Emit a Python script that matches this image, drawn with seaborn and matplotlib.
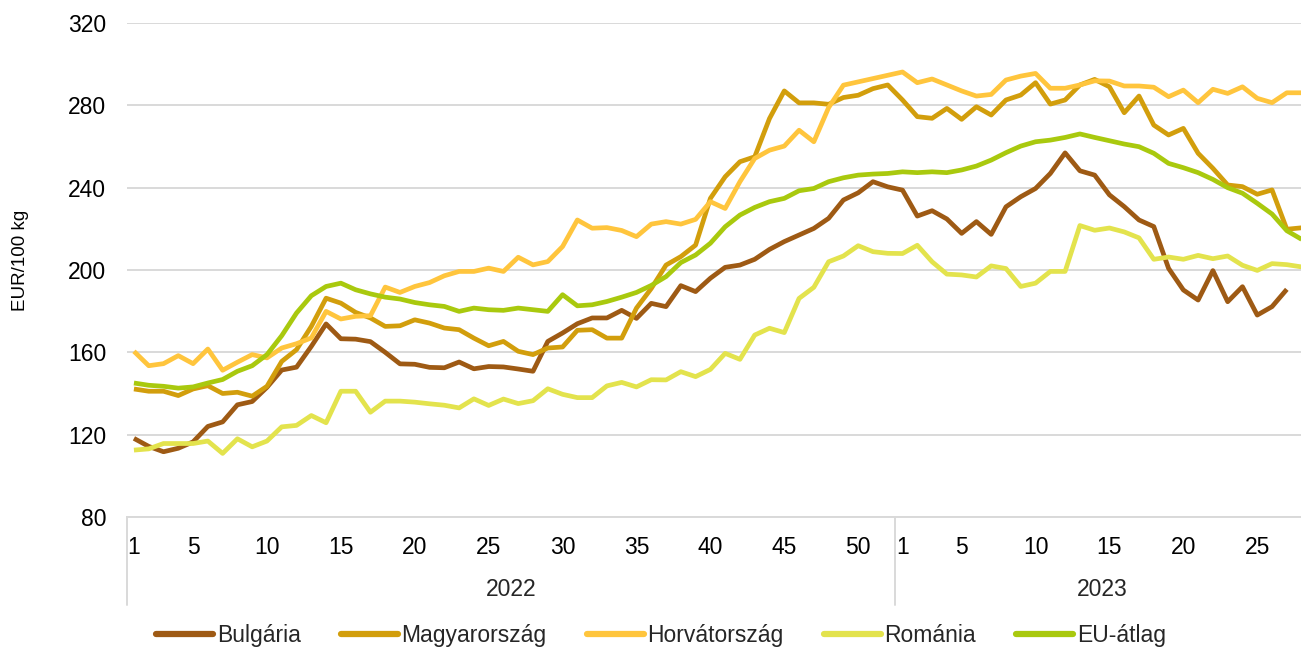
import numpy as np
import pandas as pd
import matplotlib
matplotlib.use("Agg")
import matplotlib.pyplot as plt
import matplotlib.transforms as mtransforms
from matplotlib.lines import Line2D
import seaborn as sns

# ---- data ----
weeks_2022 = list(range(1, 53))
weeks_2023 = list(range(1, 29))
years = ["2022", "2023"]
week_labels = weeks_2022 + weeks_2023
tick_weeks = [1, 5, 10, 15, 20, 25, 30, 35, 40, 45, 50]

bulgaria = [118.2, 114.3, 111.7, 113.4, 116.5, 124.0, 126.2, 134.5, 136.1, 143.0,
            151.4, 152.8, 162.9, 173.8, 166.6, 166.4, 165.2, 160.0, 154.4, 154.2,
            152.7, 152.5, 155.3, 152.0, 153.1, 152.9, 151.9, 150.8, 165.3, 169.4,
            173.9, 176.7, 176.7, 180.4, 176.5, 183.8, 182.2, 192.4, 189.5, 196.0,
            201.3, 202.4, 205.2, 210.0, 213.8, 217.0, 220.2, 225.1, 234.0, 237.5,
            242.9, 240.4, 238.8, 226.2, 228.8, 224.8, 217.8, 223.5, 217.3, 230.7,
            235.6, 239.6, 246.9, 256.9, 248.2, 246.1, 236.5, 230.8, 224.3, 221.1,
            200.8, 190.3, 185.4, 199.7, 184.6, 191.9, 178.1, 182.2, 190.6, np.nan]
magyarorszag = [142.2, 141.1, 141.1, 139.0, 142.2, 143.8, 140.0, 140.6, 138.7, 143.5,
                155.6, 161.3, 172.6, 186.3, 183.9, 179.4, 176.7, 172.6, 172.9, 175.8,
                174.2, 171.8, 171.0, 166.9, 163.2, 165.3, 160.5, 158.9, 162.1, 162.6,
                170.7, 171.0, 166.9, 166.9, 181.5, 191.0, 202.4, 206.5, 212.1, 234.8,
                245.3, 252.6, 255.0, 273.6, 287.0, 281.2, 281.2, 280.5, 283.8, 284.9,
                288.1, 289.9, 282.6, 274.5, 273.7, 278.5, 273.2, 279.3, 275.3, 282.6,
                285.0, 291.0, 280.6, 282.6, 289.9, 292.6, 289.0, 276.4, 284.5, 270.4,
                265.6, 268.8, 256.7, 249.4, 241.3, 240.5, 236.8, 238.9, 219.8, 220.5]
horvatorszag = [160.5, 153.5, 154.5, 158.4, 154.5, 161.6, 151.3, 155.2, 158.9, 157.3,
                162.1, 164.2, 167.0, 179.9, 176.2, 177.5, 177.8, 191.7, 189.1, 192.0,
                193.9, 197.2, 199.3, 199.3, 200.9, 199.3, 206.2, 202.5, 204.1, 211.4,
                224.3, 220.3, 220.6, 219.2, 216.2, 222.3, 223.5, 222.3, 224.6, 233.2,
                229.9, 242.9, 254.2, 258.2, 260.2, 267.9, 262.3, 278.9, 289.8, 291.4,
                293.0, 294.6, 296.2, 291.0, 292.8, 289.9, 287.0, 284.5, 285.3, 292.3,
                294.2, 295.5, 288.3, 288.3, 289.9, 291.9, 291.8, 289.4, 289.4, 288.8,
                284.2, 287.4, 281.3, 287.8, 285.8, 289.0, 283.4, 281.3, 286.1, 286.1]
romania = [112.5, 113.1, 115.7, 115.7, 115.7, 116.9, 110.9, 118.0, 114.1, 116.9,
           123.8, 124.5, 129.3, 125.8, 141.1, 141.1, 130.9, 136.3, 136.3, 135.8,
           135.0, 134.3, 133.0, 137.4, 134.2, 137.3, 135.1, 136.5, 142.3, 139.6,
           138.0, 138.0, 143.7, 145.4, 143.2, 146.7, 146.6, 150.6, 148.2, 151.7,
           159.5, 156.6, 168.4, 171.7, 169.6, 186.2, 191.6, 204.0, 206.8, 211.8,
           208.9, 208.1, 208.0, 212.0, 204.0, 198.0, 197.6, 196.6, 202.0, 200.7,
           192.0, 193.6, 199.3, 199.3, 221.6, 219.3, 220.4, 218.5, 215.6, 205.2,
           206.3, 205.2, 207.1, 205.5, 206.8, 202.3, 199.8, 203.1, 202.6, 201.5]
eu_atlag = [145.1, 144.0, 143.5, 142.6, 143.2, 145.1, 146.8, 150.8, 153.5, 158.9,
            168.1, 179.1, 187.5, 192.0, 193.6, 190.4, 188.4, 186.8, 185.9, 184.2,
            183.1, 182.3, 179.9, 181.5, 180.7, 180.4, 181.5, 180.7, 179.9, 188.0,
            182.6, 183.1, 184.7, 186.8, 189.1, 192.5, 196.8, 203.6, 207.3, 213.0,
            221.0, 226.7, 230.4, 233.2, 234.8, 238.5, 239.6, 242.9, 244.8, 246.1,
            246.6, 246.9, 247.7, 247.3, 247.7, 247.3, 248.6, 250.5, 253.4, 257.0,
            260.2, 262.3, 263.1, 264.4, 266.1, 264.4, 262.8, 261.2, 259.9, 256.7,
            251.8, 249.7, 247.3, 244.0, 240.0, 237.3, 232.4, 227.2, 219.1, 214.9]

series_names = ["Bulgária", "Magyarország", "Horvátország", "Románia", "EU-átlag"]
series_values = [bulgaria, magyarorszag, horvatorszag, romania, eu_atlag]
colors = ["#9E5A14", "#D29E0C", "#FFC53D", "#E3E34D", "#A9C90E"]

# ---- long-form table ----
idx = np.arange(len(week_labels))
frames = []
for name, vals in zip(series_names, series_values):
    frames.append(pd.DataFrame({"idx": idx, "value": vals, "country": name}))
df = pd.concat(frames, ignore_index=True).dropna()

# ---- style ----
sns.set_theme(style="white")
plt.rcParams["font.family"] = ["Liberation Sans", "DejaVu Sans"]
FS = 16.5
GRID = "#D9D9D9"

fig = plt.figure(figsize=(13.01, 6.48), dpi=100)
ax = fig.add_axes([127 / 1301, 131 / 648, 1174 / 1301, 494 / 648])

sns.lineplot(data=df, x="idx", y="value", hue="country", hue_order=series_names,
             palette=dict(zip(series_names, colors)), linewidth=3.4, ax=ax,
             legend=False, sort=True)
for ln in ax.lines:
    ln.set_solid_joinstyle("round")
    ln.set_solid_capstyle("butt")

ax.set_xlim(-0.47, 78.96)
ax.set_ylim(80, 320)
ax.set_yticks(range(80, 321, 40))
ax.yaxis.grid(True, color=GRID, linewidth=1.4)
ax.xaxis.grid(False)
ax.set_axisbelow(True)
for s in ["top", "right", "left"]:
    ax.spines[s].set_visible(False)
ax.spines["bottom"].set_color(GRID)
ax.spines["bottom"].set_linewidth(1.4)

# x ticks
tick_pos = [w - 1 for w in tick_weeks] + [52 + w - 1 for w in tick_weeks if w <= 28]
tick_lab = [str(w) for w in tick_weeks] + [str(w) for w in tick_weeks if w <= 28]
ax.set_xticks(tick_pos)
ax.set_xticklabels(tick_lab)
ax.tick_params(axis="x", length=0, pad=14, labelsize=FS, colors="black")
ax.tick_params(axis="y", length=0, pad=15, labelsize=FS, colors="black")
ax.set_xlabel("")
ax.set_ylabel("EUR/100 kg", fontsize=13.5, color="black")
ax.yaxis.set_label_coords(-(127 - 29) / 1174, (517 - 260) / 494)

# year group labels and separators
trans = mtransforms.blended_transform_factory(ax.transData, ax.transAxes)
sep_bottom = -(605 - 517) / 494
ax.plot([0, 0], [0, sep_bottom], transform=ax.transAxes, color=GRID, lw=1.4, clip_on=False)
ax.plot([51.5, 51.5], [0, sep_bottom], transform=trans, color=GRID, lw=1.4, clip_on=False)
year_y = -(590 - 517) / 494
ax.text(25.5, year_y, years[0], transform=trans, ha="center", va="center", fontsize=FS)
ax.text(65.5, year_y, years[1], transform=trans, ha="center", va="center", fontsize=FS)

# legend
handles = [Line2D([0], [0], color=c, lw=4.5) for c in colors]
fig.legend(handles, series_names, loc="center", bbox_to_anchor=(0.508, 0.02),
           ncol=5, frameon=False, fontsize=FS, handlelength=2.5,
           handletextpad=0.15, columnspacing=1.75)

fig.savefig("out.png", dpi=100)
